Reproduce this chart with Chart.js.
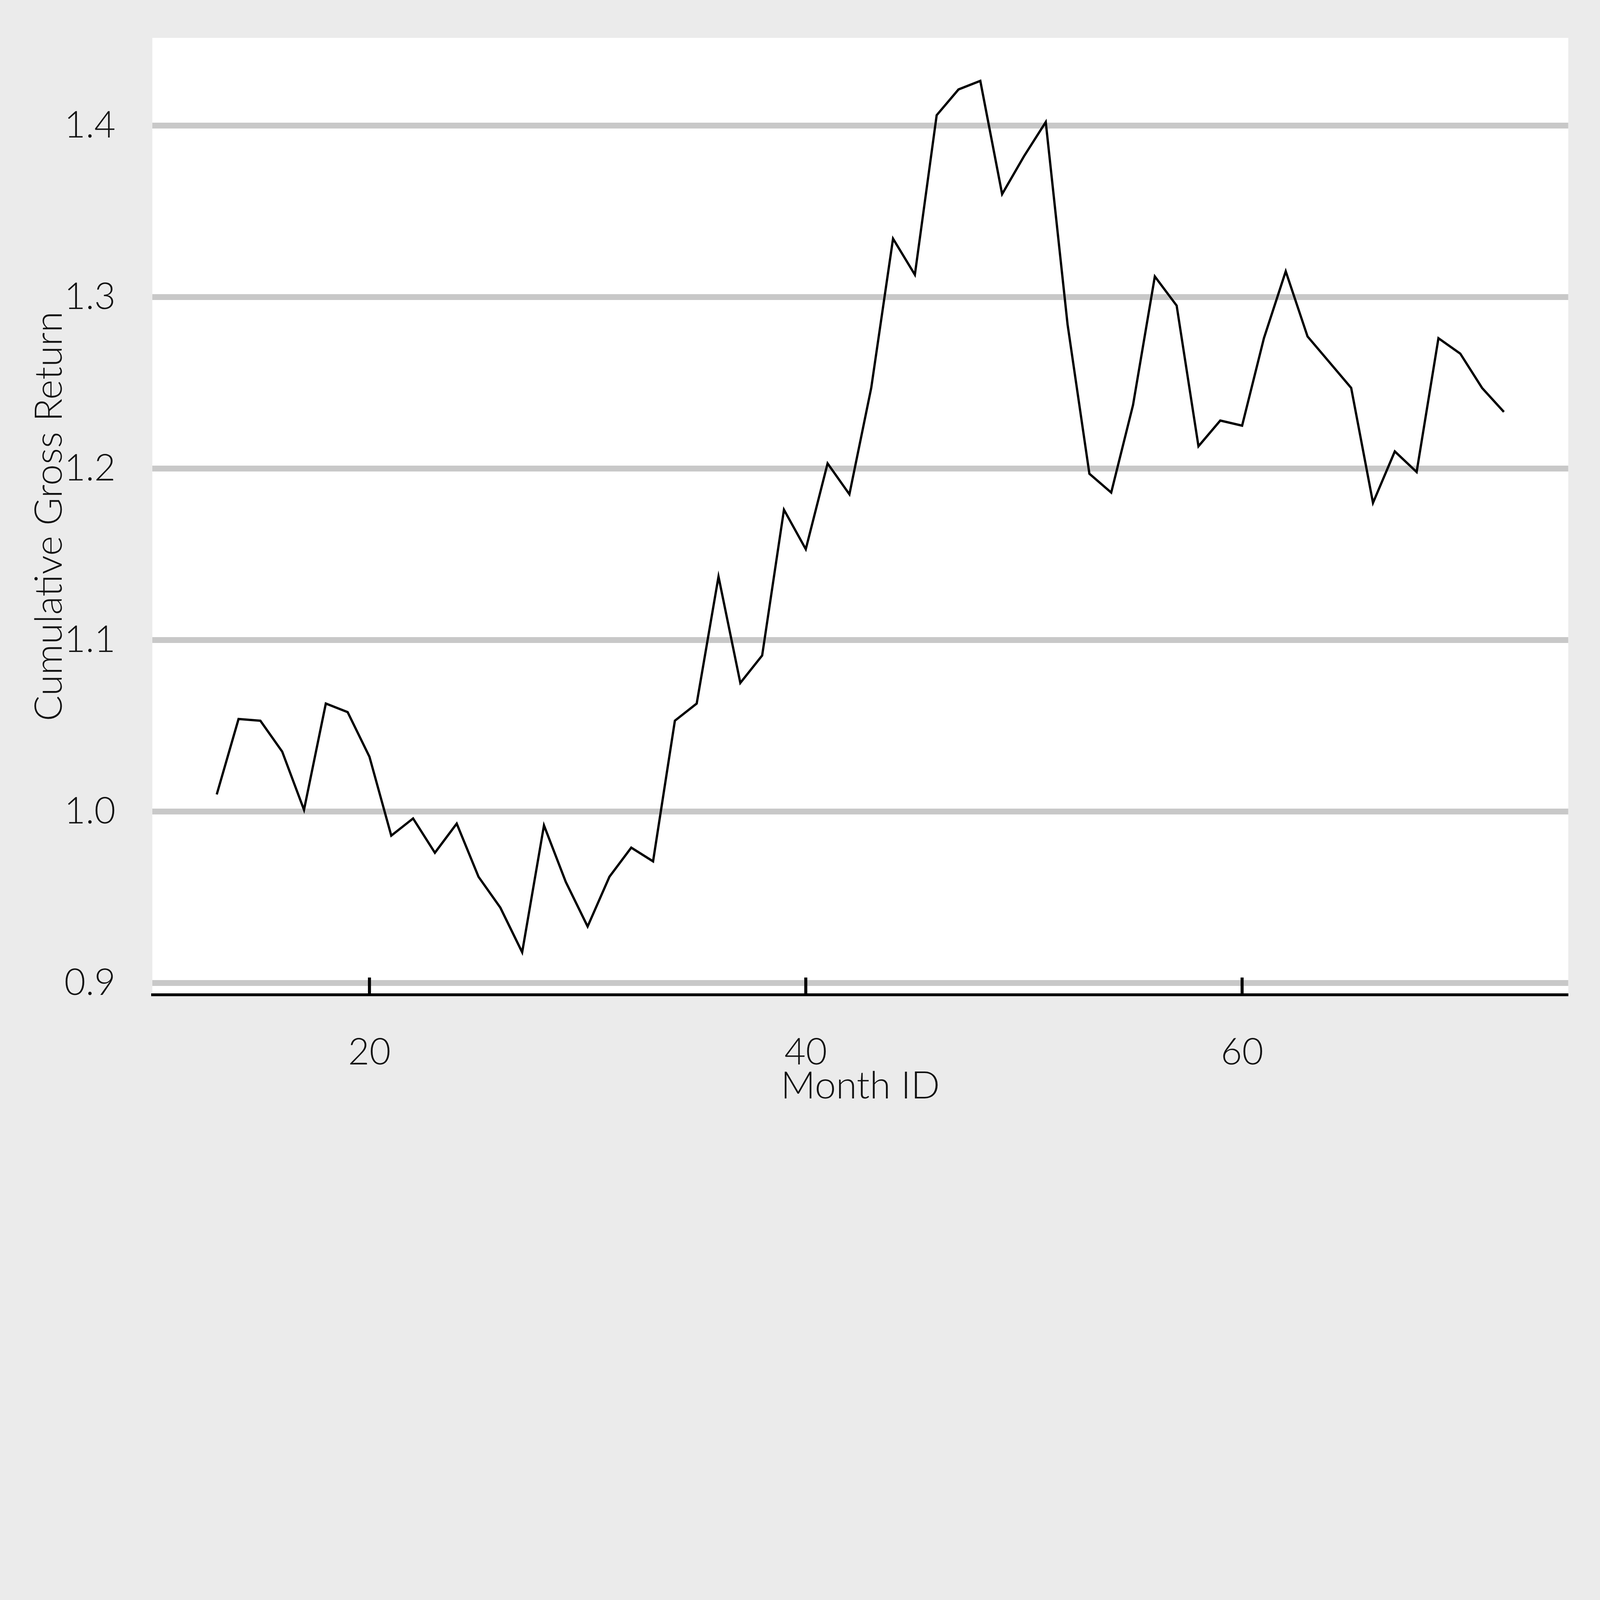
<!DOCTYPE html>
<html>
<head>
<meta charset="utf-8">
<script src="https://cdn.jsdelivr.net/npm/chart.js@4.4.0/dist/chart.umd.min.js"></script>
<style>
  html, body { margin: 0; padding: 0; background: #EBEBEB; overflow: hidden; }
  canvas { display: block; }
</style>
</head>
<body>
<canvas id="returnChart"></canvas>
<script>
  // data
  var months = [13, 14, 15, 16, 17, 18, 19, 20, 21, 22, 23, 24, 25, 26, 27, 28, 29, 30, 31, 32,
                33, 34, 35, 36, 37, 38, 39, 40, 41, 42, 43, 44, 45, 46, 47, 48, 49, 50, 51, 52,
                53, 54, 55, 56, 57, 58, 59, 60, 61, 62, 63, 64, 65, 66, 67, 68, 69, 70, 71, 72];
  var grossReturn = [1.010, 1.054, 1.053, 1.035, 1.001, 1.063, 1.058, 1.032, 0.986, 0.996,
                     0.976, 0.993, 0.962, 0.944, 0.918, 0.992, 0.959, 0.933, 0.962, 0.979,
                     0.971, 1.053, 1.063, 1.137, 1.075, 1.091, 1.176, 1.153, 1.203, 1.185,
                     1.247, 1.334, 1.313, 1.406, 1.421, 1.426, 1.360, 1.382, 1.402, 1.284,
                     1.197, 1.186, 1.237, 1.312, 1.295, 1.213, 1.228, 1.225, 1.276, 1.315,
                     1.277, 1.262, 1.247, 1.180, 1.210, 1.198, 1.276, 1.267, 1.247, 1.233];
  var xTicks = [20, 40, 60];
  var yTicks = [0.9, 1.0, 1.1, 1.2, 1.3, 1.4];

  var FONT = 'Lato, "Open Sans", sans-serif';

  // laid out for a 6300 x 4500 page, scaled to the window width
  var W = window.innerWidth || 6300;
  var k = W / 6300;
  var H = Math.round(4500 * k);

  var panelBg = {
    id: 'panelBg',
    beforeDraw: function (chart) {
      var ctx = chart.ctx, a = chart.chartArea;
      ctx.save();
      ctx.fillStyle = '#EBEBEB';
      ctx.fillRect(0, 0, chart.width, chart.height);
      ctx.fillStyle = '#FFFFFF';
      ctx.fillRect(a.left, a.top, a.right - a.left, a.bottom - a.top);
      ctx.restore();
    }
  };

  // ticks on the x axis point up into the panel
  var innerTicks = {
    id: 'innerTicks',
    afterDraw: function (chart) {
      var ctx = chart.ctx, xs = chart.scales.x, bottom = chart.chartArea.bottom;
      ctx.save();
      ctx.strokeStyle = '#000';
      ctx.lineWidth = 12 * k;
      xs.ticks.forEach(function (t) {
        var px = xs.getPixelForValue(t.value);
        ctx.beginPath();
        ctx.moveTo(px, bottom);
        ctx.lineTo(px, bottom - 68 * k);
        ctx.stroke();
      });
      ctx.restore();
    }
  };

  var points = months.map(function (m, i) { return { x: m, y: grossReturn[i] }; });

  var canvas = document.getElementById('returnChart');
  canvas.width = W;
  canvas.height = H;

  var chart = new Chart(canvas.getContext('2d'), {
    type: 'line',
    data: {
      datasets: [{
        data: points,
        borderColor: '#000',
        borderWidth: 9 * k,
        pointRadius: 0,
        tension: 0,
        fill: false
      }]
    },
    options: {
      responsive: false,
      animation: false,
      layout: { padding: { left: 0, top: 149 * k, right: 125 * k, bottom: 0 } },
      plugins: { legend: { display: false }, tooltip: { enabled: false } },
      scales: {
        x: {
          type: 'linear',
          min: 10.05,
          max: 74.95,
          afterBuildTicks: function (s) { s.ticks = xTicks.map(function (v) { return { value: v }; }); },
          afterFit: function (s) { s.height = H - 3917 * k; s.paddingLeft = 0; s.paddingRight = 0; },
          grid: { display: false, drawTicks: false },
          border: { display: true, color: '#000', width: 11 * k },
          ticks: {
            padding: 140 * k,
            color: '#111',
            font: { family: FONT, size: 145 * k, weight: 300 },
            maxRotation: 0,
            callback: function (v) { return String(v); }
          },
          title: {
            display: true,
            text: 'Month ID',
            color: '#111',
            font: { family: FONT, size: 150 * k, weight: 300, lineHeight: 1 },
            padding: { top: 0, bottom: 149 * k }
          }
        },
        y: {
          min: 0.8932,
          max: 1.4511,
          afterBuildTicks: function (s) { s.ticks = yTicks.map(function (v) { return { value: v }; }); },
          afterFit: function (s) { s.width = 600 * k; s.paddingTop = 0; s.paddingBottom = 0; },
          grid: { color: '#C8C8C8', lineWidth: 23 * k, drawTicks: false },
          border: { display: false },
          ticks: {
            padding: 145 * k,
            color: '#111',
            font: { family: FONT, size: 145 * k, weight: 300 },
            callback: function (v) { return Number(v).toFixed(1); }
          },
          title: {
            display: true,
            text: 'Cumulative Gross Return',
            color: '#111',
            font: { family: FONT, size: 150 * k, weight: 300, lineHeight: 1 },
            padding: { top: 119 * k, bottom: 0 }
          }
        }
      }
    },
    plugins: [panelBg, innerTicks]
  });
</script>
</body>
</html>
